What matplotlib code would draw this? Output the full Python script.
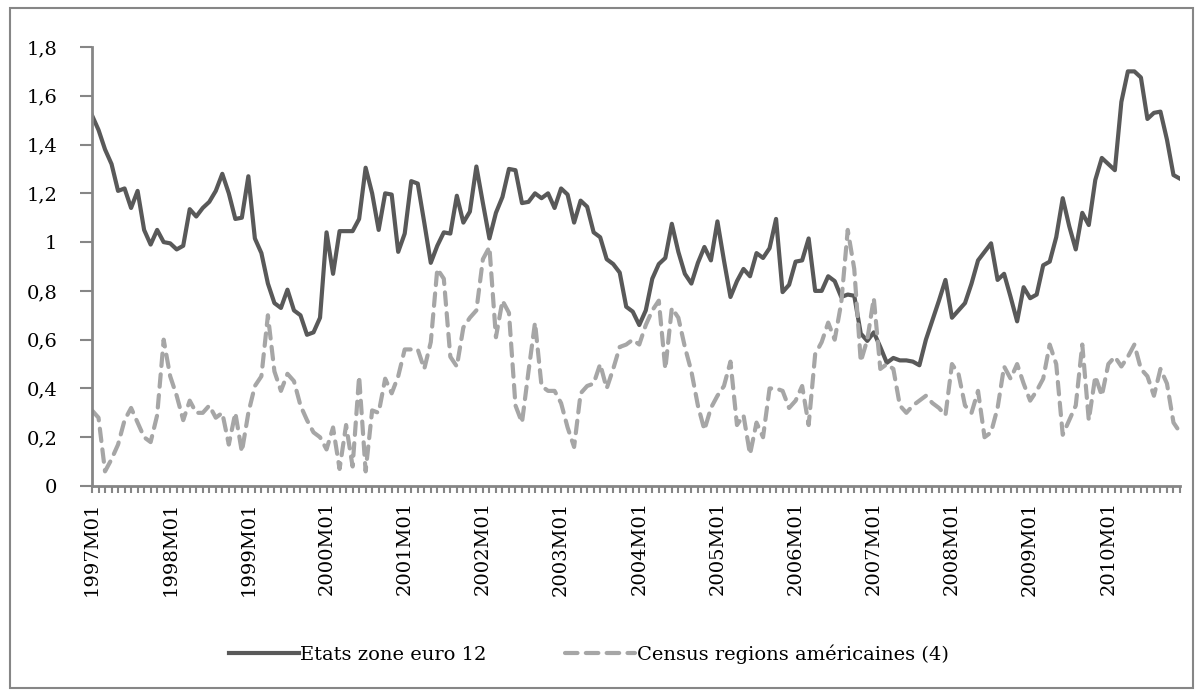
import numpy as np
import matplotlib
matplotlib.use('Agg')
import matplotlib.pyplot as plt
from matplotlib.patches import Rectangle

# Séries mensuelles (1997M01 -> 2010M12)
euro12 = [1.52, 1.46, 1.38, 1.32, 1.21, 1.22, 1.14, 1.21, 1.05, 0.99, 1.05, 1.0,
          0.995, 0.97, 0.985, 1.135, 1.105, 1.14, 1.165, 1.21, 1.28, 1.2, 1.095, 1.1,
          1.27, 1.015, 0.955, 0.83, 0.75, 0.73, 0.805, 0.72, 0.7, 0.62, 0.63, 0.69,
          1.04, 0.87, 1.045, 1.045, 1.045, 1.095, 1.305, 1.2, 1.05, 1.2, 1.195, 0.96,
          1.035, 1.25, 1.24, 1.08, 0.915, 0.985, 1.04, 1.035, 1.19, 1.08, 1.125, 1.31,
          1.16, 1.015, 1.12, 1.185, 1.3, 1.295, 1.16, 1.165, 1.2, 1.18, 1.2, 1.14,
          1.22, 1.195, 1.08, 1.17, 1.145, 1.04, 1.02, 0.93, 0.91, 0.875, 0.735, 0.715,
          0.66, 0.72, 0.85, 0.91, 0.935, 1.075, 0.96, 0.87, 0.83, 0.915, 0.98, 0.925,
          1.085, 0.925, 0.775, 0.84, 0.89, 0.86, 0.955, 0.935, 0.975, 1.095, 0.795, 0.825,
          0.92, 0.925, 1.015, 0.8, 0.8, 0.86, 0.84, 0.775, 0.785, 0.78, 0.625, 0.595,
          0.63, 0.57, 0.505, 0.525, 0.515, 0.515, 0.51, 0.495, 0.6, 0.68, 0.76, 0.845,
          0.69, 0.72, 0.75, 0.83, 0.925, 0.96, 0.995, 0.845, 0.87, 0.775, 0.675, 0.815,
          0.77, 0.785, 0.905, 0.92, 1.02, 1.18, 1.065, 0.97, 1.12, 1.07, 1.255, 1.345,
          1.32, 1.295, 1.575, 1.70, 1.70, 1.675, 1.505, 1.53, 1.535, 1.42, 1.275, 1.26]

census4 = [0.31, 0.28, 0.06, 0.11, 0.17, 0.27, 0.32, 0.26, 0.2, 0.18, 0.29, 0.6,
           0.45, 0.37, 0.27, 0.35, 0.3, 0.3, 0.33, 0.28, 0.3, 0.17, 0.3, 0.14,
           0.3, 0.41, 0.45, 0.7, 0.47, 0.39, 0.46, 0.43, 0.33, 0.27, 0.22, 0.2,
           0.15, 0.24, 0.07, 0.25, 0.08, 0.45, 0.06, 0.31, 0.3, 0.44, 0.38, 0.45,
           0.56, 0.56, 0.56, 0.48, 0.59, 0.89, 0.85, 0.53, 0.49, 0.65, 0.69, 0.72,
           0.93, 0.98, 0.61, 0.76, 0.71, 0.33, 0.26, 0.47, 0.67, 0.41, 0.39, 0.39,
           0.34, 0.24, 0.16, 0.38, 0.41, 0.42, 0.5, 0.4, 0.48, 0.57, 0.58, 0.6,
           0.58, 0.66, 0.72, 0.76, 0.48, 0.73, 0.69, 0.57, 0.47, 0.33, 0.23, 0.32,
           0.37, 0.41, 0.51, 0.25, 0.29, 0.13, 0.26, 0.2, 0.4, 0.4, 0.39, 0.32,
           0.35, 0.41, 0.25, 0.54, 0.59, 0.67, 0.6, 0.75, 1.05, 0.89, 0.51, 0.6,
           0.77, 0.48, 0.5, 0.48, 0.33, 0.3, 0.33, 0.35, 0.37, 0.34, 0.32, 0.29,
           0.5, 0.46, 0.33, 0.3, 0.39, 0.2, 0.22, 0.32, 0.49, 0.44, 0.5, 0.42,
           0.35, 0.39, 0.44, 0.58, 0.5, 0.21, 0.27, 0.33, 0.58, 0.27, 0.45, 0.37,
           0.5, 0.53, 0.49, 0.53, 0.58, 0.48, 0.45, 0.37, 0.48, 0.42, 0.26, 0.22]

mois = ['%dM%02d' % (a, m) for a in range(1997, 2011) for m in range(1, 13)]
yticks = [0, 0.2, 0.4, 0.6, 0.8, 1, 1.2, 1.4, 1.6, 1.8]
ytick_labels = ['0', '0,2', '0,4', '0,6', '0,8', '1', '1,2', '1,4', '1,6', '1,8']

plt.rcParams['font.family'] = ['DejaVu Serif']
plt.rcParams['font.size'] = 14

W, H = 1201, 696
fig = plt.figure(figsize=(W / 100, H / 100), dpi=100)
ax = fig.add_axes([92 / W, 1 - 486 / H, (1180 - 92) / W, (486 - 47) / H])

x = np.arange(len(mois))
ax.plot(x, euro12, color='#595959', lw=3, solid_joinstyle='round',
        label='Etats zone euro 12')
ax.plot(x, census4, color='#a6a6a6', lw=3, dashes=(3, 2),
        dash_capstyle='round', dash_joinstyle='round',
        label='Census regions américaines (4)')

ax.set_xlim(0, len(mois) - 1)
ax.set_ylim(0, 1.8)
ax.set_yticks(yticks)
ax.set_yticklabels(ytick_labels)
ax.set_xticks(x[::12])
ax.set_xticklabels(mois[::12], rotation=90)
ax.set_xticks(x, minor=True)

axis_col = '#868686'
for s in ['top', 'right']:
    ax.spines[s].set_visible(False)
for s in ['left', 'bottom']:
    ax.spines[s].set_color(axis_col)
    ax.spines[s].set_linewidth(2)
ax.tick_params(axis='both', which='both', color=axis_col, width=1.5,
               direction='out', labelcolor='black')
ax.tick_params(axis='x', which='both', length=5, pad=6)
ax.tick_params(axis='y', length=9, pad=16)

fig.legend(loc='center', bbox_to_anchor=(0.49, 1 - 654 / H), ncol=2,
           frameon=False, handlelength=3.6, handletextpad=0.1,
           columnspacing=4.0, fontsize=14)

# cadre de la zone de graphique
fig.patches.append(Rectangle((10 / W, 8 / H), (1193 - 10) / W, (688 - 8) / H,
                             transform=fig.transFigure, fill=False,
                             edgecolor=axis_col, lw=1.5))

fig.savefig('out.png', dpi=100)
